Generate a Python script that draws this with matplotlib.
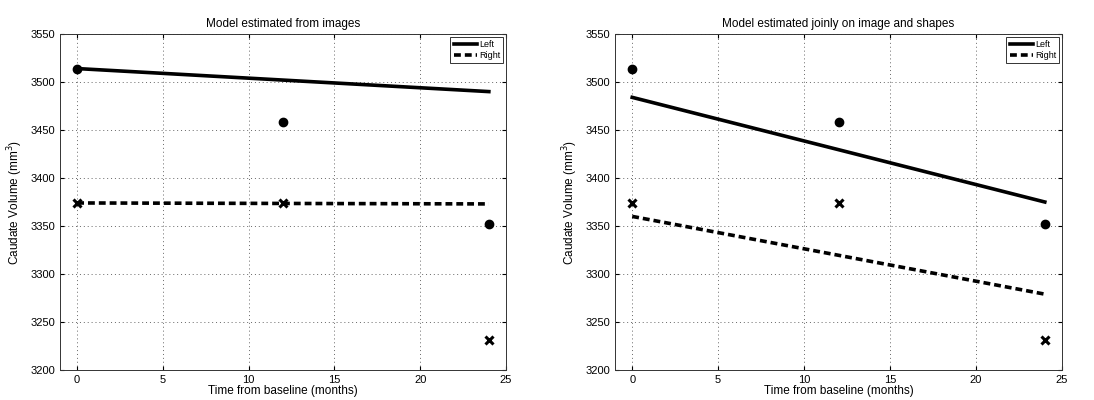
import numpy as np
import matplotlib.pyplot as plt

plt.rcParams['font.family'] = ['Liberation Sans', 'DejaVu Sans']

# ========== 数据 ==========
months = [0, 12, 24]
left_obs = [3514, 3458, 3352]
right_obs = [3374, 3374, 3231]

fit_t = [0, 24]
# 仅由图像估计的模型
img_left_fit = [3514, 3490]
img_right_fit = [3374, 3373]
# 图像与形状联合估计的模型
joint_left_fit = [3484, 3375]
joint_right_fit = [3360, 3279]

titles = ['Model estimated from images', 'Model estimated joinly on image and shapes']
fits = [(img_left_fit, img_right_fit), (joint_left_fit, joint_right_fit)]


def draw_panel(ax, title, left_fit, right_fit):
    ax.plot(months, left_obs, 'o', color='black', markersize=6, zorder=2)
    ax.plot(months, right_obs, 'x', color='black', markersize=6, mew=2.2, zorder=2)
    ax.plot(fit_t, left_fit, '-', color='black', lw=2.6, label='Left', zorder=3)
    ax.plot(fit_t, right_fit, '--', color='black', lw=2.6, dashes=(1.9, 1.1),
            label='Right', zorder=3)

    ax.set_xlim(-1, 25)
    ax.set_ylim(3200, 3550)
    ax.set_xticks([0, 5, 10, 15, 20, 25])
    ax.set_yticks(np.arange(3200, 3551, 50))
    ax.grid(True, linestyle=(0, (1, 3)), color='#666666', linewidth=0.7)
    ax.tick_params(direction='in', top=True, right=True, labelsize=8, length=3)
    for s in ax.spines.values():
        s.set_linewidth(0.7)
        s.set_color('#333333')

    ax.set_title(title, fontsize=8.5, pad=5)
    ax.set_xlabel('Time from baseline (months)', fontsize=8.5, labelpad=0)
    ax.set_ylabel('Caudate Volume (mm$^3$)', fontsize=8.5, labelpad=4)
    leg = ax.legend(loc='upper right', fontsize=6.5, fancybox=False, framealpha=1,
                    edgecolor='#333333', handlelength=2.6, borderpad=0.35,
                    labelspacing=0.25, handletextpad=0.2, borderaxespad=0.3)
    leg.get_frame().set_linewidth(0.7)


fig = plt.figure(figsize=(10.94, 4.0), dpi=100)
ax1 = fig.add_axes([60 / 1094, 1 - 370 / 400, 446 / 1094, 336 / 400])
ax2 = fig.add_axes([615 / 1094, 1 - 370 / 400, 447 / 1094, 336 / 400])

for ax, title, (lf, rf) in zip([ax1, ax2], titles, fits):
    draw_panel(ax, title, lf, rf)

plt.savefig('out.png', dpi=100)
